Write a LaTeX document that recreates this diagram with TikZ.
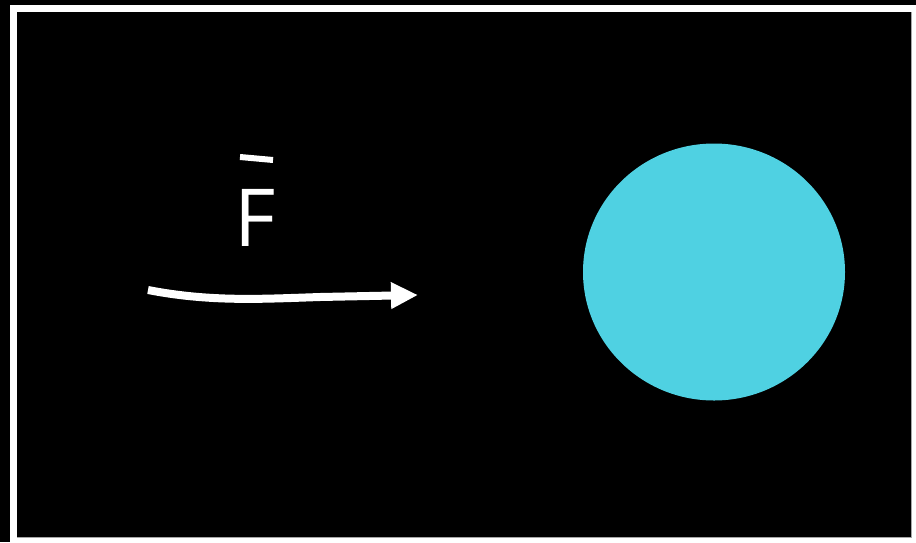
\documentclass[tikz,border=0pt]{standalone}
\usepackage{fontspec}
\setmainfont{Open Sans}
\usetikzlibrary{arrows.meta}
\definecolor{ballcol}{RGB}{79,209,226}
\tikzset{
  forcearrow/.style={draw=white, line width=8pt, -{Triangle[length=27pt,width=25pt]}},
  label/.style={text=white, font=\fontsize{80}{84}\selectfont, inner sep=0pt, anchor=base west},
  barline/.style={draw=white, line width=6pt}
}
\begin{document}
\begin{tikzpicture}[x=1pt,y=-1pt]
  \useasboundingbox (0,0) rectangle (916,542);
  \fill[black] (0,0) rectangle (916,542);
  \fill[white] (10,5) rectangle (916,542);
  \fill[black] (17,12) rectangle (911,537);
  \draw[gray!70, line width=1pt] (911,12) -- (911,537) -- (17,537);
  \fill[ballcol] (714,272) ellipse [x radius=131, y radius=128.5];
  \node[label] (F) at (234,246) {F};
  \coordinate (barL) at (240,157);
  \coordinate (barR) at (273,160);
  \draw[barline] (barL) -- (barR);
  \coordinate (a0) at (148,290);
  \coordinate (a1) at (418,295);
  \draw[forcearrow] (a0) .. controls (210,302) and (260,299) .. (320,297) -- (a1);
\end{tikzpicture}
\end{document}
